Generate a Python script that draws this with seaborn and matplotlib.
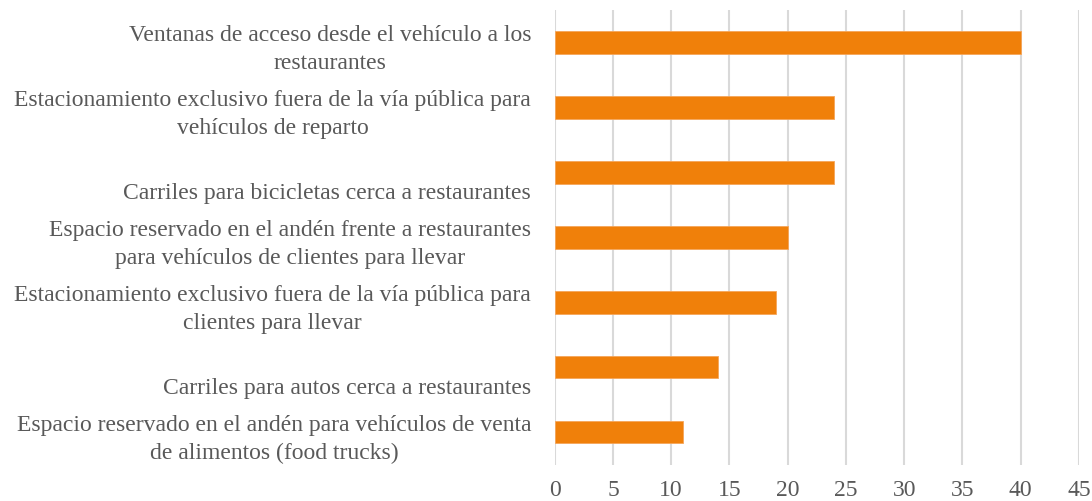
import matplotlib
matplotlib.use("Agg")
import matplotlib.pyplot as plt
import matplotlib.transforms as mtransforms
import seaborn as sns
import pandas as pd

categorias = [
    "Ventanas de acceso desde el vehículo a los\nrestaurantes",
    "Estacionamiento exclusivo fuera de la vía pública para\nvehículos de reparto",
    "\nCarriles para bicicletas cerca a restaurantes",
    "Espacio reservado en el andén frente a restaurantes\npara vehículos de clientes para llevar",
    "Estacionamiento exclusivo fuera de la vía pública para\nclientes para llevar",
    "\nCarriles para autos cerca a restaurantes",
    "Espacio reservado en el andén para vehículos de venta\nde alimentos (food trucks)",
]
valores = [40, 24, 24, 20, 19, 14, 11]
ticks_x = [0, 5, 10, 15, 20, 25, 30, 35, 40, 45]

df = pd.DataFrame({"categoria": categorias, "valor": valores})

sns.set_style("white")
plt.rcParams["font.family"] = ["Liberation Serif", "DejaVu Serif"]

fig = plt.figure(figsize=(10.92, 5.01), dpi=100)
ax = fig.add_axes([0.508, 0.072, 0.48, 0.908])

sns.barplot(data=df, x="valor", y="categoria", orient="h", color="#F0800A",
            width=0.34, saturation=1, edgecolor="#F5A55A", linewidth=0.6, ax=ax)

ax.set_xlim(0, 45)
ax.set_xticks(ticks_x)
ax.grid(axis="x", color="#D9D9D9", linewidth=1.5)
ax.set_axisbelow(True)
for s in ax.spines.values():
    s.set_visible(False)
ax.set_xlabel("")
ax.set_ylabel("")
ax.tick_params(axis="both", length=0, labelsize=17, labelcolor="#595959")
ax.tick_params(axis="x", pad=11)
ax.tick_params(axis="y", pad=17)

# etiquetas apenas mas abajo, como en excel
offset = mtransforms.ScaledTranslation(0, -1 / 100, fig.dpi_scale_trans)
for lab in ax.get_yticklabels():
    lab.set_multialignment("center")
    lab.set_linespacing(1.42)
    lab.set_transform(lab.get_transform() + offset)

fig.savefig("out.png", dpi=100)
